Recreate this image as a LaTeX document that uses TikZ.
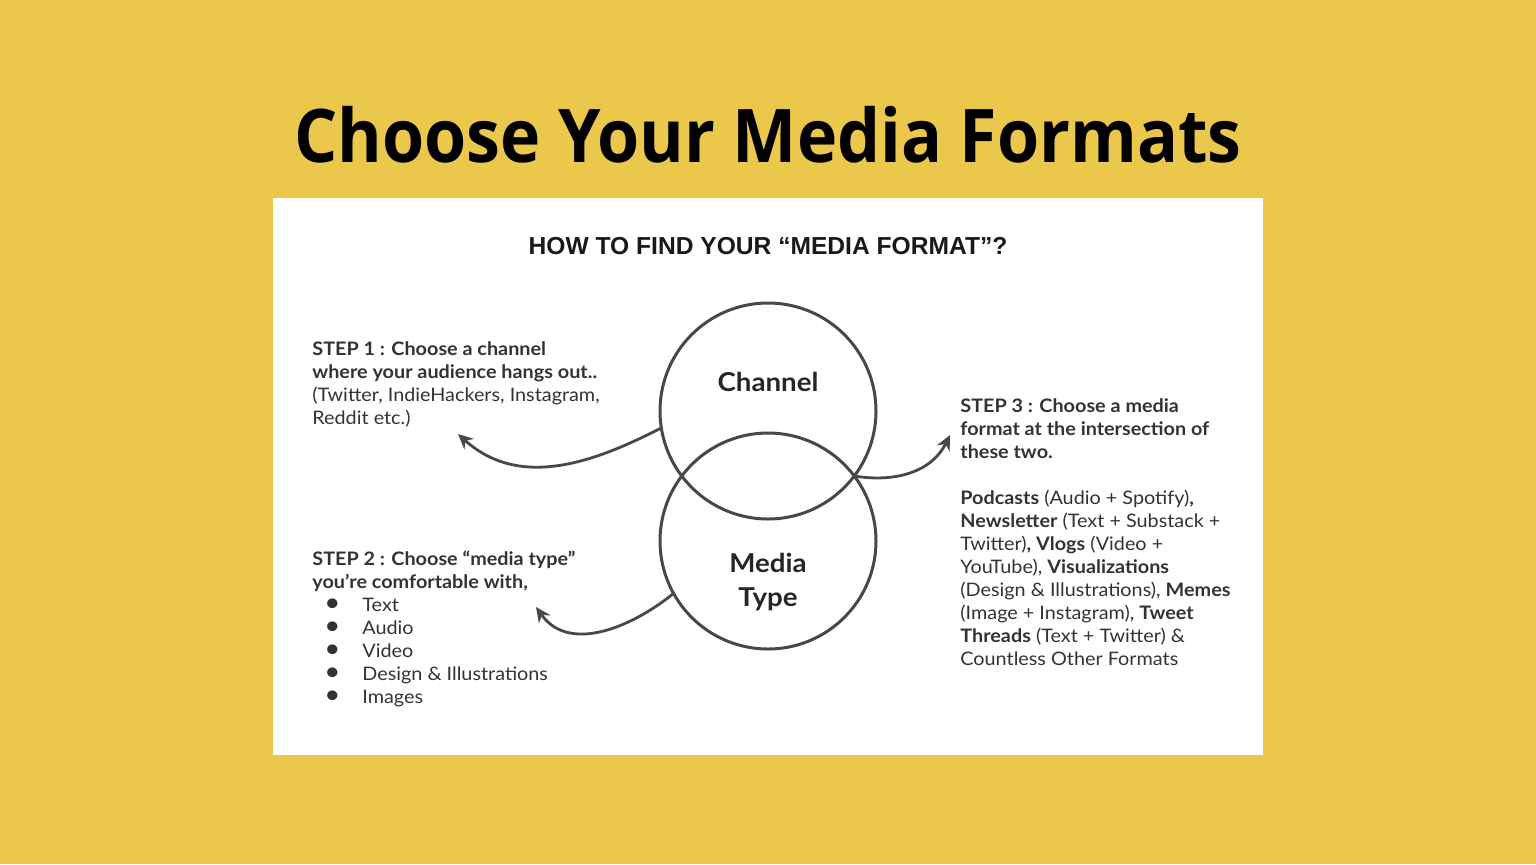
\documentclass[tikz,border=0pt]{standalone}
\usepackage{fontspec}
\setmainfont[FakeStretch=1.065]{Lato}
\newfontfamily\titlefont[FakeStretch=0.92]{Open Sans}
\newfontfamily\headfont{Liberation Sans}
\usetikzlibrary{arrows.meta,positioning}
\definecolor{bgyellow}{RGB}{235,200,75}
\definecolor{inkgray}{RGB}{51,51,51}
\definecolor{linegray}{RGB}{72,72,72}
\newcommand{\listdot}{\hspace*{6pt}\makebox[19pt][l]{\fontsize{13}{11.5}\selectfont\textbullet}}

\begin{document}
\begin{tikzpicture}
  [
    x=0.5pt, y=-0.5pt,
    venn/.style={draw=linegray, circle, line width=1.5pt, minimum size=108pt, inner sep=0pt, outer sep=0pt},
    steptext/.style={anchor=north west, inner sep=0pt, align=left, text=inkgray, font=\fontsize{9.3}{11.5}\selectfont},
    vennlabel/.style={inner sep=0pt, align=center, text=black!85, font=\fontsize{13}{17}\selectfont\bfseries},
    pointer/.style={draw=linegray, line width=1.4pt, -{Stealth[length=7.5pt,width=7pt,inset=2.5pt]}},
  ]
  \fill[bgyellow] (0,0) rectangle (1536,864);
  \node (panel) [fill=white, anchor=north west, inner sep=0pt, minimum width=495pt, minimum height=278.5pt] at (273,198) {};

  \node (title) [anchor=base, inner sep=0pt, font=\titlefont\bfseries\fontsize{37}{40}\selectfont] at (768,162) {Choose Your Media Formats};
  \node (heading) [anchor=base, inner sep=0pt, text=black!90, font=\headfont\bfseries\fontsize{12.3}{14}\selectfont] at (768,254) {HOW TO FIND YOUR “MEDIA FORMAT”?};

  \node (channel) [venn] at (768,411) {};
  \node (mediatype) [venn] at (768,541) {};
  \node (channeltext) [vennlabel, anchor=base] at ([yshift=10pt]channel.center) {Channel};
  \node (mediatext) [vennlabel] at ([yshift=-20.5pt]mediatype.center) {Media\\Type};

  \node (step1) [steptext] at (312,341) {\textbf{STEP 1 : Choose a channel}\\
    \textbf{where your audience hangs out..}\\
    (Twitter, IndieHackers, Instagram,\\
    Reddit etc.)};
  \node (step2) [steptext] at (312,551) {\textbf{STEP 2 : Choose “media type”}\\
    \textbf{you’re comfortable with,}\\
    \listdot Text\\
    \listdot Audio\\
    \listdot Video\\
    \listdot Design \& Illustrations\\
    \listdot Images};
  \node (step3) [steptext] at (960,398) {\textbf{STEP 3 : Choose a media}\\
    \textbf{format at the intersection of}\\
    \textbf{these two.}\\[11.5pt]
    \textbf{Podcasts} (Audio + Spotify)\textbf{,}\\
    \textbf{Newsletter} (Text + Substack +\\
    Twitter)\textbf{, Vlogs} (Video +\\
    YouTube), \textbf{Visualizations}\\
    (Design \& Illustrations), \textbf{Memes}\\
    (Image + Instagram), \textbf{Tweet}\\
    \textbf{Threads} (Text + Twitter) \&\\
    Countless Other Formats};

  \coordinate (tip1) at (458,434);
  \coordinate (tip2) at (536,607);
  \coordinate (tip3) at (950,435);
  \draw [pointer] (channel.189) .. controls (595,462) and (520,490) .. (tip1);
  \draw [pointer] (mediatype.209) .. controls (635,625) and (570,655) .. (tip2);
  \draw [pointer] (channel.-37) .. controls (890,482) and (930,475) .. (tip3);
\end{tikzpicture}
\end{document}
